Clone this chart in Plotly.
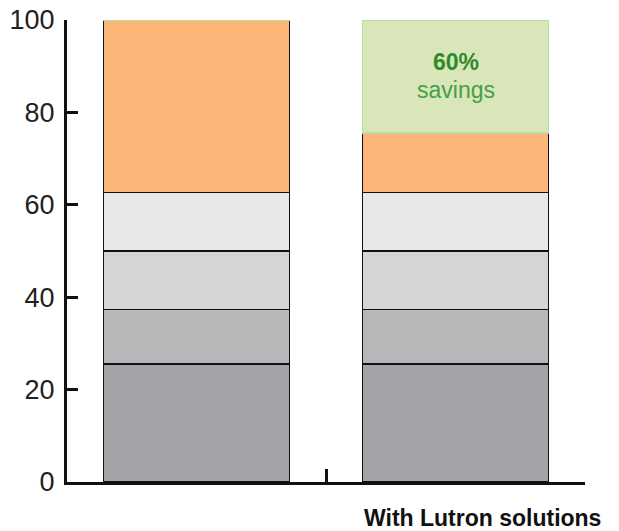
import plotly.graph_objects as go

categories = ["Current", "With Lutron solutions"]
seg_names = ["Load 1", "Load 2", "Load 3", "Load 4", "Lighting", "Savings"]
seg_values = [
    [25.5, 25.5],
    [11.8, 11.8],
    [12.7, 12.7],
    [12.7, 12.7],
    [37.3, 12.8],
    [0, 24.5],
]
seg_colors = ["#a3a4a7", "#b6b7b9", "#d4d5d7", "#e8e8e8", "#fcb677", "#d9e6b9"]
seg_lines = ["#111111", "#111111", "#111111", "#111111", "#111111", "#b9dc9f"]
savings_pct = "60%"
savings_word = "savings"
y_ticks = [0, 20, 40, 60, 80, 100]

FONT = "Liberation Sans, Arial, sans-serif"

fig = go.Figure()
for name, vals, col, lc in zip(seg_names, seg_values, seg_colors, seg_lines):
    fig.add_trace(go.Bar(
        x=categories, y=vals, name=name, width=0.72,
        marker=dict(color=col, line=dict(color=lc, width=1.5)),
        hoverinfo="skip",
    ))

fig.add_annotation(
    x=categories[1], y=91, xref="x", yref="y",
    text=f"<b>{savings_pct}</b>", showarrow=False,
    font=dict(family=FONT, size=23, color="#2f8a2b"),
)
fig.add_annotation(
    x=categories[1], y=84.8, xref="x", yref="y",
    text=savings_word, showarrow=False,
    font=dict(family=FONT, size=23, color="#43a047"),
)
fig.add_annotation(
    x=0.803, y=-0.079, xref="paper", yref="paper", xanchor="center", yanchor="middle",
    text=f"<b>{categories[1]}</b>", showarrow=False,
    font=dict(family=FONT, size=23, color="#111111"),
)

fig.update_layout(
    width=619, height=531,
    margin=dict(l=67, r=34, t=20, b=49, autoexpand=False),
    barmode="stack",
    showlegend=False,
    plot_bgcolor="white", paper_bgcolor="white",
    xaxis=dict(
        type="category", range=[-0.5, 1.5], automargin=False,
        showline=True, linecolor="#111111", linewidth=2.5,
        ticks="inside", tickson="boundaries", ticklen=13, tickwidth=2.5, tickcolor="#111111",
        showticklabels=False, showgrid=False, zeroline=False,
    ),
    yaxis=dict(
        range=[0, 100], tickvals=y_ticks, automargin=False,
        showline=True, linecolor="#111111", linewidth=3,
        ticks="inside", ticklen=11, tickwidth=3, tickcolor="#111111",
        tickfont=dict(family=FONT, size=27, color="#222222"),
        ticklabelstandoff=4, ticklabeloverflow="allow",
        showgrid=False, zeroline=False,
    ),
)

fig.write_html(
    "out.html",
    config={"displayModeBar": False},
    post_script="document.body.style.margin='0';document.body.style.overflow='hidden';",
)
